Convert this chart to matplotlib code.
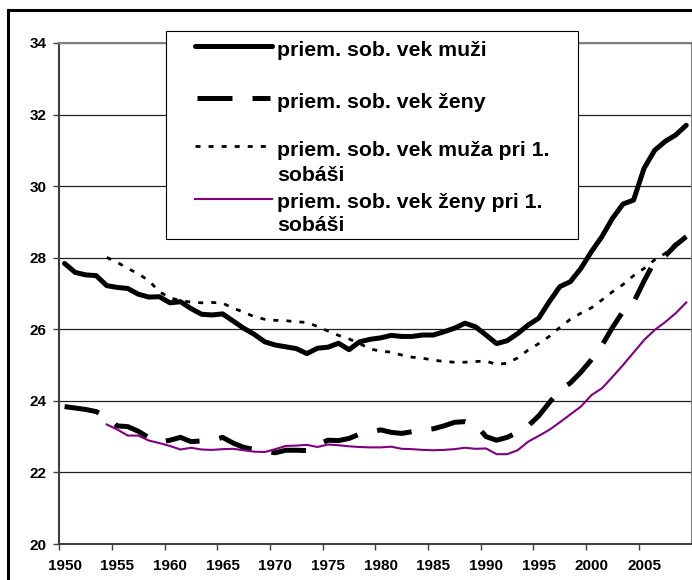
import matplotlib
matplotlib.use('Agg')
import matplotlib.pyplot as plt
from matplotlib.lines import Line2D
from matplotlib.patches import Rectangle

plt.rcParams['font.family'] = ['Liberation Sans', 'DejaVu Sans']
plt.rcParams['font.weight'] = 'bold'

# ---------------- data ----------------
years = list(range(1950, 2010))
vek_muzi = [27.84, 27.59, 27.52, 27.50, 27.22, 27.17, 27.14, 26.98, 26.90, 26.91,
            26.74, 26.77, 26.58, 26.42, 26.40, 26.43, 26.23, 26.03, 25.86, 25.65,
            25.56, 25.51, 25.46, 25.32, 25.47, 25.50, 25.61, 25.43, 25.65, 25.72,
            25.76, 25.83, 25.80, 25.80, 25.84, 25.84, 25.93, 26.03, 26.17, 26.07,
            25.84, 25.60, 25.68, 25.88, 26.12, 26.31, 26.77, 27.19, 27.33, 27.70,
            28.17, 28.59, 29.10, 29.50, 29.61, 30.50, 31.00, 31.25, 31.43, 31.70]
vek_zeny = [23.84, 23.80, 23.76, 23.70, 23.55, 23.30, 23.28, 23.15, 22.97, 22.85,
            22.90, 22.98, 22.86, 22.88, 22.90, 22.98, 22.82, 22.70, 22.64, 22.58,
            22.55, 22.62, 22.62, 22.61, 22.78, 22.90, 22.89, 22.95, 23.07, 23.12,
            23.19, 23.12, 23.09, 23.14, 23.18, 23.22, 23.30, 23.40, 23.42, 23.35,
            23.00, 22.90, 22.98, 23.12, 23.30, 23.58, 23.95, 24.30, 24.50, 24.80,
            25.15, 25.55, 26.05, 26.50, 26.75, 27.35, 27.90, 28.05, 28.35, 28.59]
years_first = list(range(1954, 2010))
vek_muza_1 = [28.01, 27.87, 27.70, 27.55, 27.36, 27.05,
              26.88, 26.80, 26.76, 26.74, 26.75, 26.73, 26.59, 26.48, 26.35, 26.28,
              26.25, 26.24, 26.21, 26.19, 26.08, 25.95, 25.83, 25.73, 25.60, 25.45,
              25.39, 25.36, 25.28, 25.22, 25.19, 25.14, 25.10, 25.08, 25.08, 25.10,
              25.11, 25.02, 25.05, 25.20, 25.42, 25.60, 25.80, 26.05, 26.28, 26.45,
              26.60, 26.82, 27.05, 27.25, 27.50, 27.70, 27.94, 28.12, 28.40, 28.59]
vek_zeny_1 = [23.34, 23.20, 23.03, 23.03, 22.89, 22.82,
              22.74, 22.64, 22.69, 22.64, 22.63, 22.65, 22.66, 22.62, 22.58, 22.57,
              22.65, 22.74, 22.75, 22.77, 22.71, 22.78, 22.76, 22.73, 22.71, 22.70,
              22.70, 22.72, 22.66, 22.65, 22.63, 22.62, 22.63, 22.65, 22.69, 22.66,
              22.67, 22.51, 22.51, 22.62, 22.86, 23.02, 23.19, 23.40, 23.62, 23.84,
              24.16, 24.35, 24.67, 25.00, 25.35, 25.70, 25.98, 26.20, 26.45, 26.75]
x_label_years = list(range(1950, 2010, 5))
x_labels = [str(y) for y in x_label_years]
y_ticks = [20, 22, 24, 26, 28, 30, 32, 34]
y_labels = [str(v) for v in y_ticks]
legend_labels = ['priem. sob. vek muži',
                 'priem. sob. vek ženy',
                 'priem. sob. vek muža pri 1.\nsobáši',
                 'priem. sob. vek ženy pri 1.\nsobáši']

# ---------------- figure ----------------
W, H = 692, 580
fig = plt.figure(figsize=(W / 100, H / 100), dpi=100)
fig.patch.set_facecolor('white')

def fx(px):
    return px / W

def fy(py):
    return 1 - py / H

L, R, T, B = 59.3, 691.5, 43.0, 544.0
ax = fig.add_axes([fx(L), fy(B), (R - L) / W, (B - T) / H])

lw_thick = 3.6
dot_lw, dot_dash = 2.0, (1.8, 2.9)
ax.plot(years, vek_muzi, color='black', lw=lw_thick,
        solid_capstyle='round', solid_joinstyle='round', zorder=4)
ax.plot(years, vek_zeny, color='black', lw=lw_thick, dashes=(7, 4),
        dash_joinstyle='round', zorder=4)
ax.plot(years_first, vek_muza_1, color='black', lw=dot_lw, dashes=dot_dash, zorder=4)
ax.plot(years_first, vek_zeny_1, color='#800080', lw=1.5, zorder=4)

ax.set_xlim(1949.5, 2009.5)
ax.set_ylim(20, 34)

# x axis: tick marks on category boundaries, labels on category centres
ax.set_xticks([y - 0.5 for y in x_label_years])
ax.set_xticklabels([''] * len(x_label_years))
ax.set_xticks(x_label_years, minor=True)
ax.set_xticklabels(x_labels, minor=True, fontsize=11, fontweight='bold')
ax.tick_params(axis='x', which='major', direction='out', length=4, width=1,
               color='#404040')
ax.tick_params(axis='x', which='minor', length=0, pad=11)

ax.set_yticks(y_ticks)
ax.set_yticklabels(y_labels, fontsize=11, fontweight='bold')
ax.tick_params(axis='y', direction='out', length=4, width=1, color='#404040', pad=5)

ax.yaxis.grid(True, color='#202020', lw=0.9)
ax.set_axisbelow(True)

for s in ['left', 'bottom']:
    ax.spines[s].set_color('#404040')
    ax.spines[s].set_linewidth(1.5)
for s in ['top', 'right']:
    ax.spines[s].set_color('#808080')
    ax.spines[s].set_linewidth(1.5)

# outer frame (left and top edges visible)
fig.add_artist(Line2D([fx(8.3), fx(8.3)], [fy(9.5), fy(600)], color='black',
                      lw=2.2, solid_capstyle='projecting'))
fig.add_artist(Line2D([fx(8.3), fx(720)], [fy(9.5), fy(9.5)], color='black',
                      lw=2.2, solid_capstyle='projecting'))

# legend box
lx0, lx1, ly0, ly1 = 166, 578, 31, 238.7
fig.add_artist(Rectangle((fx(lx0), fy(ly1)), (lx1 - lx0) / W, (ly1 - ly0) / H,
                         facecolor='white', edgecolor='black', lw=0.8, zorder=5))
hx0, hx1 = 195, 271.7
fig.add_artist(Line2D([fx(hx0), fx(hx1)], [fy(46.3)] * 2, color='black', lw=lw_thick,
                      solid_capstyle='round', zorder=6))
fig.add_artist(Line2D([fx(196.7), fx(270)], [fy(98)] * 2, color='black', lw=lw_thick,
                      dashes=(7, 4), zorder=6))
fig.add_artist(Line2D([fx(hx0), fx(hx1)], [fy(146.3)] * 2, color='black', lw=dot_lw,
                      dashes=dot_dash, zorder=6))
fig.add_artist(Line2D([fx(hx0), fx(hx1)], [fy(198.7)] * 2, color='#800080', lw=1.5,
                      zorder=6))

tx = 276.7
baselines = [(56.3,), (108.0,), (156.3, 181.3), (208.0, 231.3)]
for lab, bls in zip(legend_labels, baselines):
    for line, bl in zip(lab.split('\n'), bls):
        fig.text(fx(tx), fy(bl), line, fontsize=15.3, fontweight='bold',
                 ha='left', va='baseline', zorder=7)

fig.savefig('out.png', dpi=100)
